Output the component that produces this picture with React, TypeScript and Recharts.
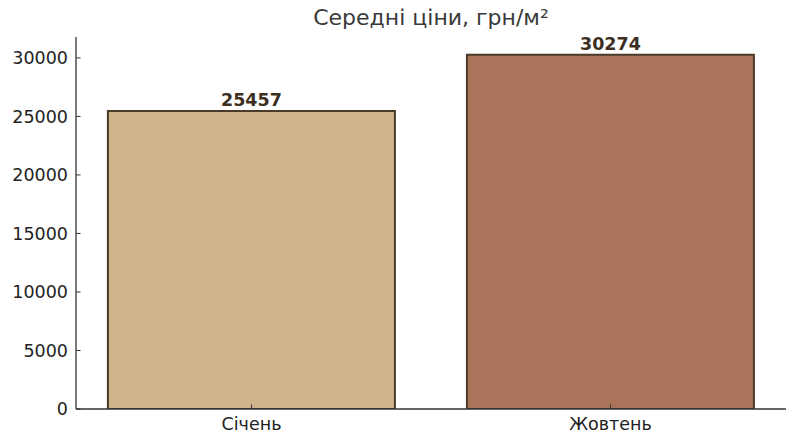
import { BarChart, Bar, XAxis, YAxis, Cell, LabelList } from "recharts";

const months = ["Січень", "Жовтень"];
const prices = [25457, 30274];
const barColors = ["#d2b48c", "#a9745a"];
const yTicks = [0, 5000, 10000, 15000, 20000, 25000, 30000];

const data = months.map((m, i) => ({ month: m, price: prices[i] }));
const yMax = Math.max(...prices) * 1.05;

const FONT = "'DejaVu Sans', sans-serif";
const INK = "#333333";

// тики всередину, як у matplotlib
const YTick = (props: any) => {
  const { x, y, payload } = props;
  return (
    <g>
      <line x1={x + 8} y1={y} x2={x + 12.5} y2={y} stroke={INK} strokeWidth={1} />
      <text x={x} y={y} dy="0.36em" textAnchor="end" fontSize={17.5} fontFamily={FONT} fill="#222">
        {payload.value}
      </text>
    </g>
  );
};

const XTick = (props: any) => {
  const { x, y, payload } = props;
  return (
    <g>
      <line x1={x} y1={y - 4} x2={x} y2={y - 8.5} stroke={INK} strokeWidth={1} />
      <text x={x} y={y + 17} textAnchor="middle" fontSize={17.5} fontFamily={FONT} fill="#222">
        {payload.value}
      </text>
    </g>
  );
};

const ValueLabel = (props: any) => {
  const { x, y, width, value } = props;
  return (
    <text
      x={x + width / 2}
      y={y - 5}
      textAnchor="middle"
      fontSize={17.5}
      fontWeight="bold"
      fontFamily={FONT}
      fill="#3d2f22"
    >
      {value}
    </text>
  );
};

export default function App() {
  return (
    <div style={{ position: "absolute", left: 0, top: 0, width: 791, height: 443, background: "#fff" }}>
      <div
        style={{
          position: "absolute",
          left: 76,
          width: 710,
          top: 4,
          textAlign: "center",
          fontFamily: FONT,
          fontSize: 22,
          color: "#3a3a3a",
          lineHeight: "28px",
        }}
      >
        Середні ціни, грн/м²
      </div>
      <BarChart
        width={791}
        height={443}
        data={data}
        margin={{ top: 37, right: 5, bottom: 4, left: 0 }}
        barCategoryGap="10%"
      >
        <XAxis
          dataKey="month"
          height={30}
          tickLine={false}
          tickSize={0}
          tickMargin={4}
          tick={<XTick />}
          axisLine={{ stroke: INK, strokeWidth: 1.3 }}
          padding={{ left: -4, right: -4 }}
        />
        <YAxis
          width={76}
          domain={[0, yMax]}
          ticks={yTicks}
          allowDataOverflow
          tickLine={false}
          tickSize={0}
          tickMargin={8}
          tick={<YTick />}
          axisLine={{ stroke: INK, strokeWidth: 1.3 }}
        />
        <Bar dataKey="price" isAnimationActive={false} stroke="#4a3a2a" strokeWidth={2}>
          {data.map((d, i) => (
            <Cell key={d.month} fill={barColors[i]} />
          ))}
          <LabelList dataKey="price" content={<ValueLabel />} />
        </Bar>
      </BarChart>
    </div>
  );
}
